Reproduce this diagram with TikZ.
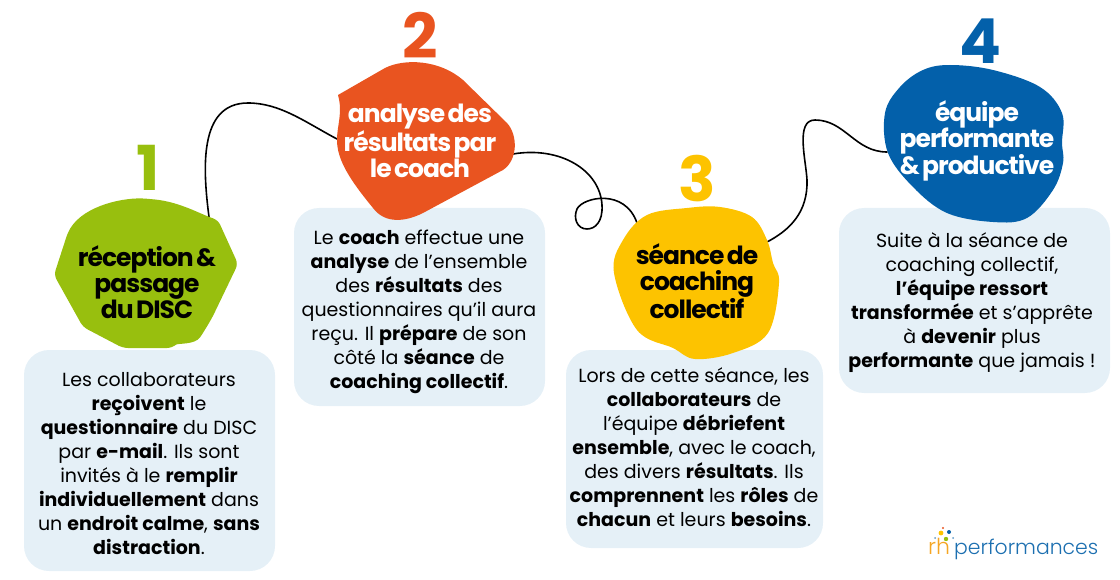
\documentclass[tikz,border=0pt]{standalone}
\usepackage{fontspec}
\setmainfont{Poppins}
\newfontfamily\blobfont[LetterSpace=-4,WordSpace=0.55]{Poppins}
\newfontfamily\logofont[UprightFont={* Light}]{Poppins}
\definecolor{stepgreen}{HTML}{98BF0E}
\definecolor{steporange}{HTML}{E95420}
\definecolor{stepyellow}{HTML}{FDC300}
\definecolor{stepblue}{HTML}{0360AA}
\definecolor{cardblue}{HTML}{E5F0F7}
\definecolor{logoorange}{HTML}{F5A623}
\definecolor{logoblue}{HTML}{1C6FB0}
\tikzset{
  stepnum/.style={font=\fontsize{62}{62}\selectfont\bfseries},
  bloblabel/.style={align=center, inner sep=0pt, font=\blobfont\fontsize{25}{26}\selectfont\bfseries},
  bodytext/.style={align=center, inner sep=0pt, text=black, font=\fontsize{19}{24}\selectfont},
  card/.style={fill=cardblue, rounded corners=25pt},
  wire/.style={black, line width=1.6pt, line cap=round},
  blob/.style={smooth cycle, tension=0.6}
}
\begin{document}
\begin{tikzpicture}[x=1pt, y=-1pt]
  \useasboundingbox (0,0) rectangle (1120,580);
  % connectors
  \coordinate (w1a) at (209,217);
  \coordinate (w1b) at (337,139);
  \coordinate (w2a) at (513,154);
  \coordinate (w2b) at (637,223);
  \coordinate (w3a) at (767,242);
  \coordinate (w3b) at (887,152);
  \draw[wire] (w1a) .. controls (203,170) and (198,103) .. (248,103)
    .. controls (280,103) and (305,122) .. (w1b);
  \draw[wire] (w2a) .. controls (560,146) and (600,170) .. (602,205)
    .. controls (603,222) and (595,229) .. (587,229)
    .. controls (577,229) and (573,218) .. (577,209)
    .. controls (583,197) and (625,188) .. (w2b);
  \draw[wire] (w3a) .. controls (790,230) and (808,212) .. (807,180)
    .. controls (806,160) and (795,120) .. (815,120)
    .. controls (845,120) and (855,152) .. (w3b);
  % cards
  \fill[card] (24,350) rectangle (275,571);
  \fill[card] (294,208) rectangle (545,406);
  \fill[card] (566,350) rectangle (823,548);
  \fill[card] (839,208) rectangle (1110,393);
  % blobs
  \fill[stepgreen, rounded corners=5pt] (68,232) .. controls (85,205) and (125,197) .. (150,199)
    .. controls (180,202) and (200,214) .. (218,220) -- (238,264) -- (212,318) -- (203,333)
    .. controls (195,345) and (178,343) .. (172,348) -- (123,348) -- (83,327) -- (54,275) -- cycle;
  \fill[steporange] (338,95) -- (385,68) .. controls (405,58) and (440,60) .. (463,80) -- (507,123)
    .. controls (518,135) and (518,160) .. (503,170) -- (423,213)
    .. controls (405,222) and (385,224) .. (373,208)
    .. controls (350,180) and (337,160) .. (337,140)
    .. controls (337,125) and (343,113) .. (338,95) -- cycle;
  \fill[stepyellow] plot[blob] coordinates {(720,207) (752,217) (767,240) (773,263) (779,283) (768,333) (733,353) (695,359) (673,348) (637,330) (614,273) (623,240) (647,215) (687,208)};
  \fill[stepblue] plot[blob] coordinates {(950,65) (993,70) (1040,87) (1062,113) (1062,143) (1063,163) (1053,190) (1027,218) (993,222) (947,213) (913,187) (888,153) (885,113) (900,87) (923,70)};
  % step numbers
  \node[stepnum, text=stepgreen] (num1) at (148,168) {1};
  \node[stepnum, text=steporange] (num2) at (420,35) {2};
  \node[stepnum, text=stepyellow] (num3) at (697,179) {3};
  \node[stepnum, text=stepblue] (num4) at (980,41) {4};
  % blob titles
  \node[bloblabel, text=black] (title1) at (147,282) {réception \&\\passage\\du DISC};
  \node[bloblabel, text=white] (title2) at (420,141) {analyse des\\résultats par\\le coach};
  \node[bloblabel, text=black] (title3) at (697,281) {séance de\\coaching\\collectif};
  \node[bloblabel, text=white] (title4) at (977,141) {équipe\\[-1.5pt]performante\\\& productive};
  % card texts
  \node[bodytext] (text1) at (149,463.5) {Les collaborateurs\\\textbf{reçoivent} le\\\textbf{questionnaire} du DISC\\par \textbf{e-mail}. Ils sont\\invités à le \textbf{remplir}\\\textbf{individuellement} dans\\un \textbf{endroit calme}, \textbf{sans}\\\textbf{distraction}.};
  \node[bodytext] (text2) at (419,311.5) {Le \textbf{coach} effectue une\\\textbf{analyse} de l’ensemble\\des \textbf{résultats} des\\questionnaires qu’il aura\\reçu. Il \textbf{prépare} de son\\côté la \textbf{séance} de\\\textbf{coaching collectif}.};
  \node[bodytext] (text3) at (694,447.5) {Lors de cette séance, les\\\textbf{collaborateurs} de\\l’équipe \textbf{débriefent}\\\textbf{ensemble}, avec le coach,\\des divers \textbf{résultats}. Ils\\\textbf{comprennent} les \textbf{rôles} de\\\textbf{chacun} et leurs \textbf{besoins}.};
  \node[bodytext] (text4) at (972,302.5) {Suite à la séance de\\coaching collectif,\\\textbf{l’équipe ressort}\\\textbf{transformée} et s’apprête\\à \textbf{devenir} plus\\\textbf{performante} que jamais !};
  % logo
  \fill[steporange] (943,528) circle (1.2);
  \fill[stepyellow] (941,533) circle (2.4);
  \fill[stepblue] (949,532) circle (2);
  \fill[logoblue!70] (935,538) circle (1);
  \fill[logoblue!70] (953,538) circle (1);
  \fill[stepgreen] (946,539) circle (2.2);
  \node[anchor=base west, inner sep=0pt, text=logoorange, font=\logofont\fontsize{22}{22}\selectfont] (logorh) at (928,554) {rh};
  \node[anchor=base west, inner sep=0pt, text=logoblue, font=\logofont\fontsize{20.4}{22}\selectfont] (logotext) at (954,554) {performances};
\end{tikzpicture}
\end{document}
